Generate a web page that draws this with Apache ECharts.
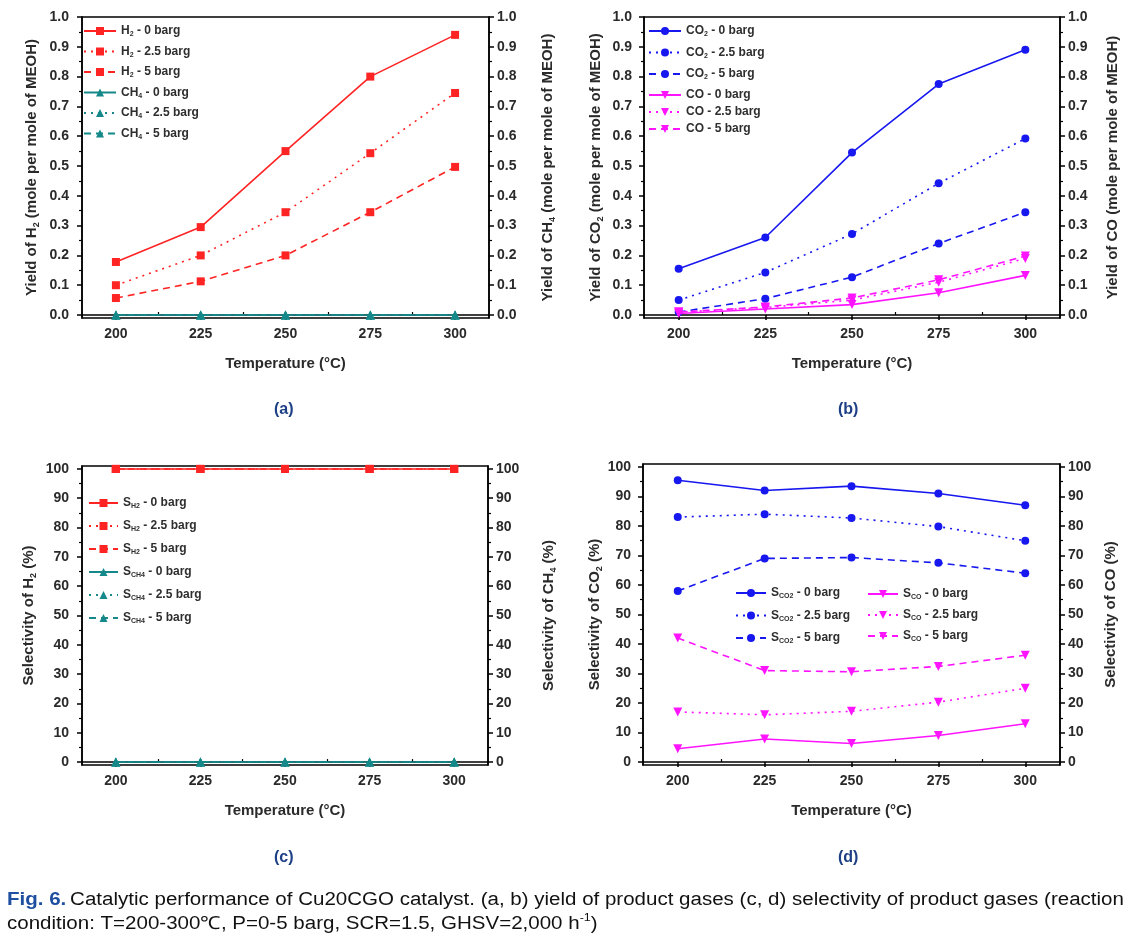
<!DOCTYPE html>
<html>
<head>
<meta charset="utf-8">
<script src="https://cdn.jsdelivr.net/npm/echarts@6.0.0/dist/echarts.min.js"></script>
<style>
  html, body { margin: 0; padding: 0; background: #fff; }
  #chart { width: 1146px; height: 938px; }
</style>
</head>
<body>
<div id="chart"></div>
<script>
const temps = [200, 225, 250, 275, 300]
const minorTemps = [212.5, 237.5, 262.5, 287.5]

// (a) yield, mole per mole of MEOH
const yieldH2_0 = [0.178, 0.295, 0.550, 0.800, 0.940]
const yieldH2_25 = [0.100, 0.200, 0.345, 0.543, 0.745]
const yieldH2_5 = [0.057, 0.113, 0.200, 0.345, 0.497]
const yieldCH4_0 = [0, 0, 0, 0, 0]
const yieldCH4_25 = [0, 0, 0, 0, 0]
const yieldCH4_5 = [0, 0, 0, 0, 0]

// (b) yield, mole per mole of MEOH
const yieldCO2_0 = [0.155, 0.260, 0.545, 0.775, 0.890]
const yieldCO2_25 = [0.050, 0.143, 0.272, 0.442, 0.592]
const yieldCO2_5 = [0.010, 0.055, 0.127, 0.240, 0.345]
const yieldCO_0 = [0.005, 0.020, 0.035, 0.075, 0.133]
const yieldCO_25 = [0.010, 0.025, 0.050, 0.110, 0.190]
const yieldCO_5 = [0.010, 0.027, 0.057, 0.118, 0.198]

// (c) selectivity, %
const selH2_0 = [100, 100, 100, 100, 100]
const selH2_25 = [100, 100, 100, 100, 100]
const selH2_5 = [100, 100, 100, 100, 100]
const selCH4_0 = [0, 0, 0, 0, 0]
const selCH4_25 = [0, 0, 0, 0, 0]
const selCH4_5 = [0, 0, 0, 0, 0]

// (d) selectivity, %
const selCO2_0 = [95.5, 92.0, 93.5, 91.0, 87.0]
const selCO2_25 = [83.0, 84.0, 82.7, 79.8, 75.0]
const selCO2_5 = [58.0, 69.0, 69.3, 67.5, 64.0]
const selCO_0 = [4.5, 7.8, 6.3, 9.0, 13.0]
const selCO_25 = [17.0, 16.0, 17.2, 20.3, 25.0]
const selCO_5 = [42.0, 31.0, 30.6, 32.4, 36.2]

const yieldTicks = [0, 0.1, 0.2, 0.3, 0.4, 0.5, 0.6, 0.7, 0.8, 0.9, 1.0]
const yieldMinor = [0.05, 0.15, 0.25, 0.35, 0.45, 0.55, 0.65, 0.75, 0.85, 0.95]
const selTicks = [0, 10, 20, 30, 40, 50, 60, 70, 80, 90, 100]
const selMinor = [5, 15, 25, 35, 45, 55, 65, 75, 85, 95]

const RED = '#ff2424'
const TEAL = '#15898a'
const BLUE = '#1717f0'
const MAGENTA = '#ff14ff'
const TXT = '#2a2a2a'
const FONT = 'Liberation Sans, Arial, sans-serif'

const DOT = [2, 5]
const DASH = [7, 5]
const DOWN = 'path://M0,0L10,0L5,9Z'

const titleRich = {
  t: { fontSize: 15, fontWeight: 'bold', color: TXT, fontFamily: FONT, lineHeight: 18 },
  s: { fontSize: 9, fontWeight: 'bold', color: TXT, fontFamily: FONT, lineHeight: 7, verticalAlign: 'bottom' },
}
const legendRich = {
  t: { fontSize: 12, fontWeight: 'bold', color: '#2e2e2e', fontFamily: FONT, lineHeight: 14 },
  s: { fontSize: 7, fontWeight: 'bold', color: '#2e2e2e', fontFamily: FONT, lineHeight: 5, verticalAlign: 'bottom' },
}

// series name -> rich text used in legends
const legendText = {}
function sub(base, s, rest) {
  return '{t|' + base + '}{s|' + s + '}{t|' + rest + '}'
}

const grids = [
  { left: 82, top: 17, width: 407, height: 301 },
  { left: 644, top: 17, width: 416, height: 301 },
  { left: 82, top: 466, width: 406, height: 299 },
  { left: 643, top: 464, width: 417, height: 301 },
]

const xAxes = []
const yAxes = []

function addAxes(g, ymin, ymax, ticks, minor, leftName, rightName, leftGap, rightGap, leftMargin) {
  const line = { show: true, lineStyle: { color: '#000', width: 1.5 } }
  const label = { fontSize: 14, fontWeight: 'bold', color: TXT, fontFamily: FONT }
  xAxes.push({
    gridIndex: g, type: 'value', min: 190, max: 310,
    axisLine: line,
    axisTick: { show: true, length: 5, customValues: temps, lineStyle: { color: '#000', width: 1.5 } },
    axisLabel: Object.assign({ margin: 9, customValues: temps }, label),
    splitLine: { show: false },
    name: 'Temperature (°C)', nameLocation: 'middle', nameGap: 38,
    nameTextStyle: { fontSize: 15, fontWeight: 'bold', color: TXT, fontFamily: FONT },
  })
  xAxes.push({
    gridIndex: g, type: 'value', min: 190, max: 310,
    axisLine: { show: false },
    axisTick: { show: true, length: 3, customValues: minorTemps, lineStyle: { color: '#000', width: 1.2 } },
    axisLabel: { show: false },
    splitLine: { show: false },
  })
  const fmt = ymax > 2 ? (v) => String(v) : (v) => v.toFixed(1)
  ;['left', 'right'].forEach((pos) => {
    yAxes.push({
      gridIndex: g, type: 'value', min: ymin, max: ymax, position: pos,
      axisLine: line,
      axisTick: { show: true, length: 5, customValues: ticks, lineStyle: { color: '#000', width: 1.5 } },
      axisLabel: Object.assign({ margin: pos === 'left' ? leftMargin : 8, customValues: ticks, formatter: fmt }, label),
      splitLine: { show: false },
      name: pos === 'left' ? leftName : rightName,
      nameLocation: 'middle', nameRotate: 90,
      nameGap: pos === 'left' ? leftGap : rightGap,
      nameTextStyle: { rich: titleRich },
    })
  })
  ;['left', 'right'].forEach((pos) => {
    yAxes.push({
      gridIndex: g, type: 'value', min: ymin, max: ymax, position: pos,
      axisLine: { show: false },
      axisTick: { show: true, length: 3, customValues: minor, lineStyle: { color: '#000', width: 1.2 } },
      axisLabel: { show: false },
      splitLine: { show: false },
    })
  })
}

addAxes(0, -0.01, 1.0, yieldTicks, yieldMinor,
  sub('Yield of H', '2', ' (mole per mole of MEOH)'),
  sub('Yield of CH', '4', ' (mole per mole of MEOH)'), 41, 50, 13)
addAxes(1, -0.01, 1.0, yieldTicks, yieldMinor,
  sub('Yield of CO', '2', ' (mole per mole of MEOH)'),
  '{t|Yield of CO (mole per mole of MEOH)}', 39, 44, 12)
addAxes(2, -1, 101, selTicks, selMinor,
  sub('Selectivity of H', '2', ' (%)'),
  sub('Selectivity of CH', '4', ' (%)'), 44, 52, 13)
addAxes(3, -1, 101, selTicks, selMinor,
  sub('Selectivity of CO', '2', ' (%)'),
  '{t|Selectivity of CO (%)}', 39, 42, 12)

const series = []
function addLine(g, right, name, rich, vals, color, dash, symbol, size) {
  legendText[name] = rich
  series.push({
    name,
    type: 'line',
    xAxisIndex: 2 * g,
    yAxisIndex: 4 * g + (right ? 1 : 0),
    data: temps.map((t, i) => [t, vals[i]]),
    symbol,
    symbolSize: size,
    showSymbol: true,
    lineStyle: { color, width: 1.6, type: dash },
    itemStyle: { color },
    emphasis: { disabled: true },
    animation: false,
    z: right ? 3 : 2,
  })
}

// panel a
addLine(0, false, 'H2 - 0 barg', sub('H', '2', ' - 0 barg'), yieldH2_0, RED, 'solid', 'rect', 8)
addLine(0, false, 'H2 - 2.5 barg', sub('H', '2', ' - 2.5 barg'), yieldH2_25, RED, DOT, 'rect', 8)
addLine(0, false, 'H2 - 5 barg', sub('H', '2', ' - 5 barg'), yieldH2_5, RED, DASH, 'rect', 8)
addLine(0, true, 'CH4 - 0 barg', sub('CH', '4', ' - 0 barg'), yieldCH4_0, TEAL, 'solid', 'triangle', 9)
addLine(0, true, 'CH4 - 2.5 barg', sub('CH', '4', ' - 2.5 barg'), yieldCH4_25, TEAL, DOT, 'triangle', 9)
addLine(0, true, 'CH4 - 5 barg', sub('CH', '4', ' - 5 barg'), yieldCH4_5, TEAL, DASH, 'triangle', 9)
// panel b
addLine(1, false, 'CO2 - 0 barg', sub('CO', '2', ' - 0 barg'), yieldCO2_0, BLUE, 'solid', 'circle', 8)
addLine(1, false, 'CO2 - 2.5 barg', sub('CO', '2', ' - 2.5 barg'), yieldCO2_25, BLUE, DOT, 'circle', 8)
addLine(1, false, 'CO2 - 5 barg', sub('CO', '2', ' - 5 barg'), yieldCO2_5, BLUE, DASH, 'circle', 8)
addLine(1, true, 'CO - 0 barg', '{t|CO - 0 barg}', yieldCO_0, MAGENTA, 'solid', DOWN, 9)
addLine(1, true, 'CO - 2.5 barg', '{t|CO - 2.5 barg}', yieldCO_25, MAGENTA, DOT, DOWN, 9)
addLine(1, true, 'CO - 5 barg', '{t|CO - 5 barg}', yieldCO_5, MAGENTA, DASH, DOWN, 9)
// panel c
addLine(2, false, 'S_H2 - 0 barg', sub('S', 'H2', ' - 0 barg'), selH2_0, RED, 'solid', 'rect', 8)
addLine(2, false, 'S_H2 - 2.5 barg', sub('S', 'H2', ' - 2.5 barg'), selH2_25, RED, DOT, 'rect', 8)
addLine(2, false, 'S_H2 - 5 barg', sub('S', 'H2', ' - 5 barg'), selH2_5, RED, DASH, 'rect', 8)
addLine(2, true, 'S_CH4 - 0 barg', sub('S', 'CH4', ' - 0 barg'), selCH4_0, TEAL, 'solid', 'triangle', 9)
addLine(2, true, 'S_CH4 - 2.5 barg', sub('S', 'CH4', ' - 2.5 barg'), selCH4_25, TEAL, DOT, 'triangle', 9)
addLine(2, true, 'S_CH4 - 5 barg', sub('S', 'CH4', ' - 5 barg'), selCH4_5, TEAL, DASH, 'triangle', 9)
// panel d
addLine(3, false, 'S_CO2 - 0 barg', sub('S', 'CO2', ' - 0 barg'), selCO2_0, BLUE, 'solid', 'circle', 8)
addLine(3, false, 'S_CO2 - 2.5 barg', sub('S', 'CO2', ' - 2.5 barg'), selCO2_25, BLUE, DOT, 'circle', 8)
addLine(3, false, 'S_CO2 - 5 barg', sub('S', 'CO2', ' - 5 barg'), selCO2_5, BLUE, DASH, 'circle', 8)
addLine(3, true, 'S_CO - 0 barg', sub('S', 'CO', ' - 0 barg'), selCO_0, MAGENTA, 'solid', DOWN, 9)
addLine(3, true, 'S_CO - 2.5 barg', sub('S', 'CO', ' - 2.5 barg'), selCO_25, MAGENTA, DOT, DOWN, 9)
addLine(3, true, 'S_CO - 5 barg', sub('S', 'CO', ' - 5 barg'), selCO_5, MAGENTA, DASH, DOWN, 9)

function legend(names, left, top, gap, width) {
  return {
    data: names, left, top, orient: 'vertical', itemGap: gap, padding: 0,
    itemWidth: width || 32, itemHeight: 10, selectedMode: false,
    formatter: (n) => legendText[n],
    textStyle: { rich: legendRich },
  }
}

const subLabel = (text, x, y) => ({
  type: 'text', left: x, top: y,
  style: { text, font: 'bold 16px ' + FONT, fill: '#1d3f86' },
})

const chart = echarts.init(document.getElementById('chart'))
chart.setOption({
  backgroundColor: '#fff',
  animation: false,
  textStyle: { fontFamily: FONT },
  grid: grids.map((g) => Object.assign({
    show: true, borderColor: '#000', borderWidth: 1.5, backgroundColor: 'transparent',
  }, g)),
  xAxis: xAxes,
  yAxis: yAxes,
  legend: [
    legend(['H2 - 0 barg', 'H2 - 2.5 barg', 'H2 - 5 barg', 'CH4 - 0 barg', 'CH4 - 2.5 barg', 'CH4 - 5 barg'], 83, 25, 7.5),
    legend(['CO2 - 0 barg', 'CO2 - 2.5 barg', 'CO2 - 5 barg'], 648, 25, 8.5),
    legend(['CO - 0 barg', 'CO - 2.5 barg', 'CO - 5 barg'], 648, 89, 5),
    legend(['S_H2 - 0 barg', 'S_H2 - 2.5 barg', 'S_H2 - 5 barg', 'S_CH4 - 0 barg', 'S_CH4 - 2.5 barg', 'S_CH4 - 5 barg'], 88, 497, 10, 29),
    legend(['S_CO2 - 0 barg', 'S_CO2 - 2.5 barg', 'S_CO2 - 5 barg'], 735, 587, 9.5, 30),
    legend(['S_CO - 0 barg', 'S_CO - 2.5 barg', 'S_CO - 5 barg'], 867, 588, 8, 30),
  ],
  series,
  graphic: [
    subLabel('(a)', 274, 402),
    subLabel('(b)', 838, 402),
    subLabel('(c)', 274, 850),
    subLabel('(d)', 838, 850),
    {
      type: 'text', x: 7, y: 888, scaleX: 1.14,
      style: {
        text: '{b|Fig. 6.} {n|Catalytic performance of Cu20CGO catalyst. (a, b) yield of product gases (c, d) selectivity of product gases (reaction}\n' +
          '{n|condition: T=200-300℃, P=0-5 barg, SCR=1.5, GHSV=2,000 h}{sup|-1}{n|)}',
        rich: {
          b: { font: 'bold 18px ' + FONT, fill: '#1f4fa0', lineHeight: 24 },
          n: { font: '18px ' + FONT, fill: '#111', lineHeight: 24 },
          sup: { font: '11px ' + FONT, fill: '#111', lineHeight: 24, verticalAlign: 'top' },
        },
      },
    },
  ],
})
</script>
</body>
</html>
